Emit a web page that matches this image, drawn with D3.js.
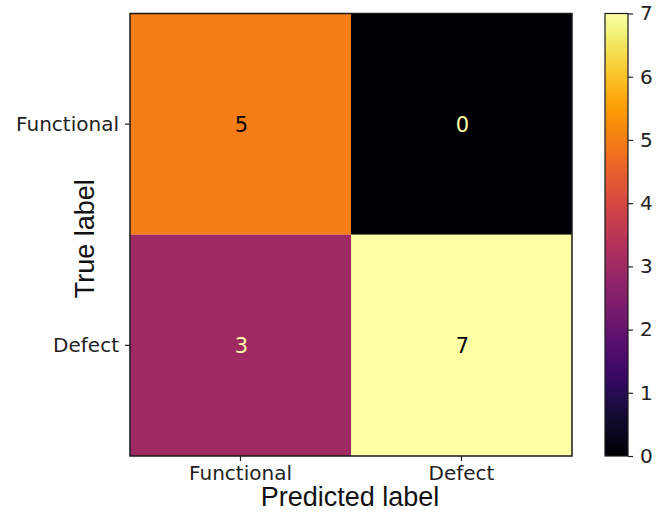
<!DOCTYPE html>
<html>
<head>
<meta charset="utf-8">
<script src="https://cdn.jsdelivr.net/npm/d3@7"></script>
<style>
  html, body { margin: 0; padding: 0; background: #ffffff; }
  svg { display: block; }
</style>
</head>
<body>
<svg id="chart" width="657" height="512"></svg>
<script>
// Confusion matrix data
const trueLabels = ["Functional", "Defect"];
const predictedLabels = ["Functional", "Defect"];
const counts = [
  [5, 0],
  [3, 7]
];
const colorbarTicks = [0, 1, 2, 3, 4, 5, 6, 7];
const colorMin = 0;
const colorMax = 7;

const svg = d3.select("#chart");

const plot = { left: 130, right: 572, top: 13.5, bottom: 456 };
const bar = { left: 605, right: 628 };

const x = d3.scaleBand().domain(predictedLabels).range([plot.left, plot.right]);
const y = d3.scaleBand().domain(trueLabels).range([plot.top, plot.bottom]);
const color = d3.scaleSequential(d3.interpolateInferno).domain([colorMin, colorMax]);

// Cells
const cells = [];
trueLabels.forEach((t, i) => predictedLabels.forEach((p, j) => cells.push({ t, p, v: counts[i][j] })));

svg.append("g").selectAll("rect").data(cells).join("rect")
  .attr("x", d => x(d.p))
  .attr("y", d => y(d.t))
  .attr("width", x.bandwidth())
  .attr("height", y.bandwidth())
  .attr("fill", d => color(d.v));

// Cell values: dark text on bright cells, light text on dark cells
const mid = (colorMin + colorMax) / 2;
svg.append("g").selectAll("text").data(cells).join("text")
  .attr("x", d => x(d.p) + x.bandwidth() / 2 + 1)
  .attr("y", d => y(d.t) + y.bandwidth() / 2 + 1)
  .attr("text-anchor", "middle")
  .attr("dominant-baseline", "central")
  .attr("font-family", "DejaVu Sans")
  .attr("font-size", 21)
  .attr("fill", d => d.v < mid ? color(colorMax) : color(colorMin))
  .text(d => d.v);

// Frame around the matrix
svg.append("rect")
  .attr("x", plot.left).attr("y", plot.top)
  .attr("width", plot.right - plot.left).attr("height", plot.bottom - plot.top)
  .attr("fill", "none").attr("stroke", "#1a1a1a").attr("stroke-width", 1.5);

// Axes
const styleAxis = g => {
  g.select(".domain").remove();
  g.selectAll(".tick line").attr("stroke", "#222").attr("stroke-width", 1.2);
  g.selectAll(".tick text")
    .attr("font-family", "DejaVu Sans")
    .attr("font-size", 20)
    .attr("fill", "#222");
};

svg.append("g")
  .attr("transform", `translate(${plot.left},0)`)
  .call(d3.axisLeft(y).tickSize(5).tickPadding(6))
  .call(styleAxis);

svg.append("g")
  .attr("transform", `translate(0,${plot.bottom})`)
  .call(d3.axisBottom(x).tickSize(5).tickPadding(5))
  .call(styleAxis);

// Axis titles
svg.append("text")
  .attr("x", (plot.left + plot.right) / 2 - 1)
  .attr("y", 506)
  .attr("text-anchor", "middle")
  .attr("font-family", "Liberation Sans")
  .attr("font-size", 27)
  .attr("fill", "#111")
  .text("Predicted label");

svg.append("text")
  .attr("transform", `translate(94,${(plot.top + plot.bottom) / 2 + 4}) rotate(-90)`)
  .attr("text-anchor", "middle")
  .attr("font-family", "Liberation Sans")
  .attr("font-size", 27)
  .attr("fill", "#111")
  .text("True label");

// Colorbar
const cbScale = d3.scaleLinear().domain([colorMin, colorMax]).range([plot.bottom, plot.top]);
const grad = svg.append("defs").append("linearGradient")
  .attr("id", "cbgrad").attr("x1", 0).attr("y1", 1).attr("x2", 0).attr("y2", 0);
d3.range(0, 1.0001, 0.02).forEach(t => {
  grad.append("stop").attr("offset", t).attr("stop-color", color(colorMin + t * (colorMax - colorMin)));
});

svg.append("rect")
  .attr("x", bar.left).attr("y", plot.top)
  .attr("width", bar.right - bar.left).attr("height", plot.bottom - plot.top)
  .attr("fill", "url(#cbgrad)")
  .attr("stroke", "#1a1a1a").attr("stroke-width", 1.2);

svg.append("g")
  .attr("transform", `translate(${bar.right},0)`)
  .call(d3.axisRight(cbScale).tickValues(colorbarTicks).tickFormat(d3.format("d")).tickSize(5).tickPadding(7))
  .call(styleAxis);
</script>
</body>
</html>
